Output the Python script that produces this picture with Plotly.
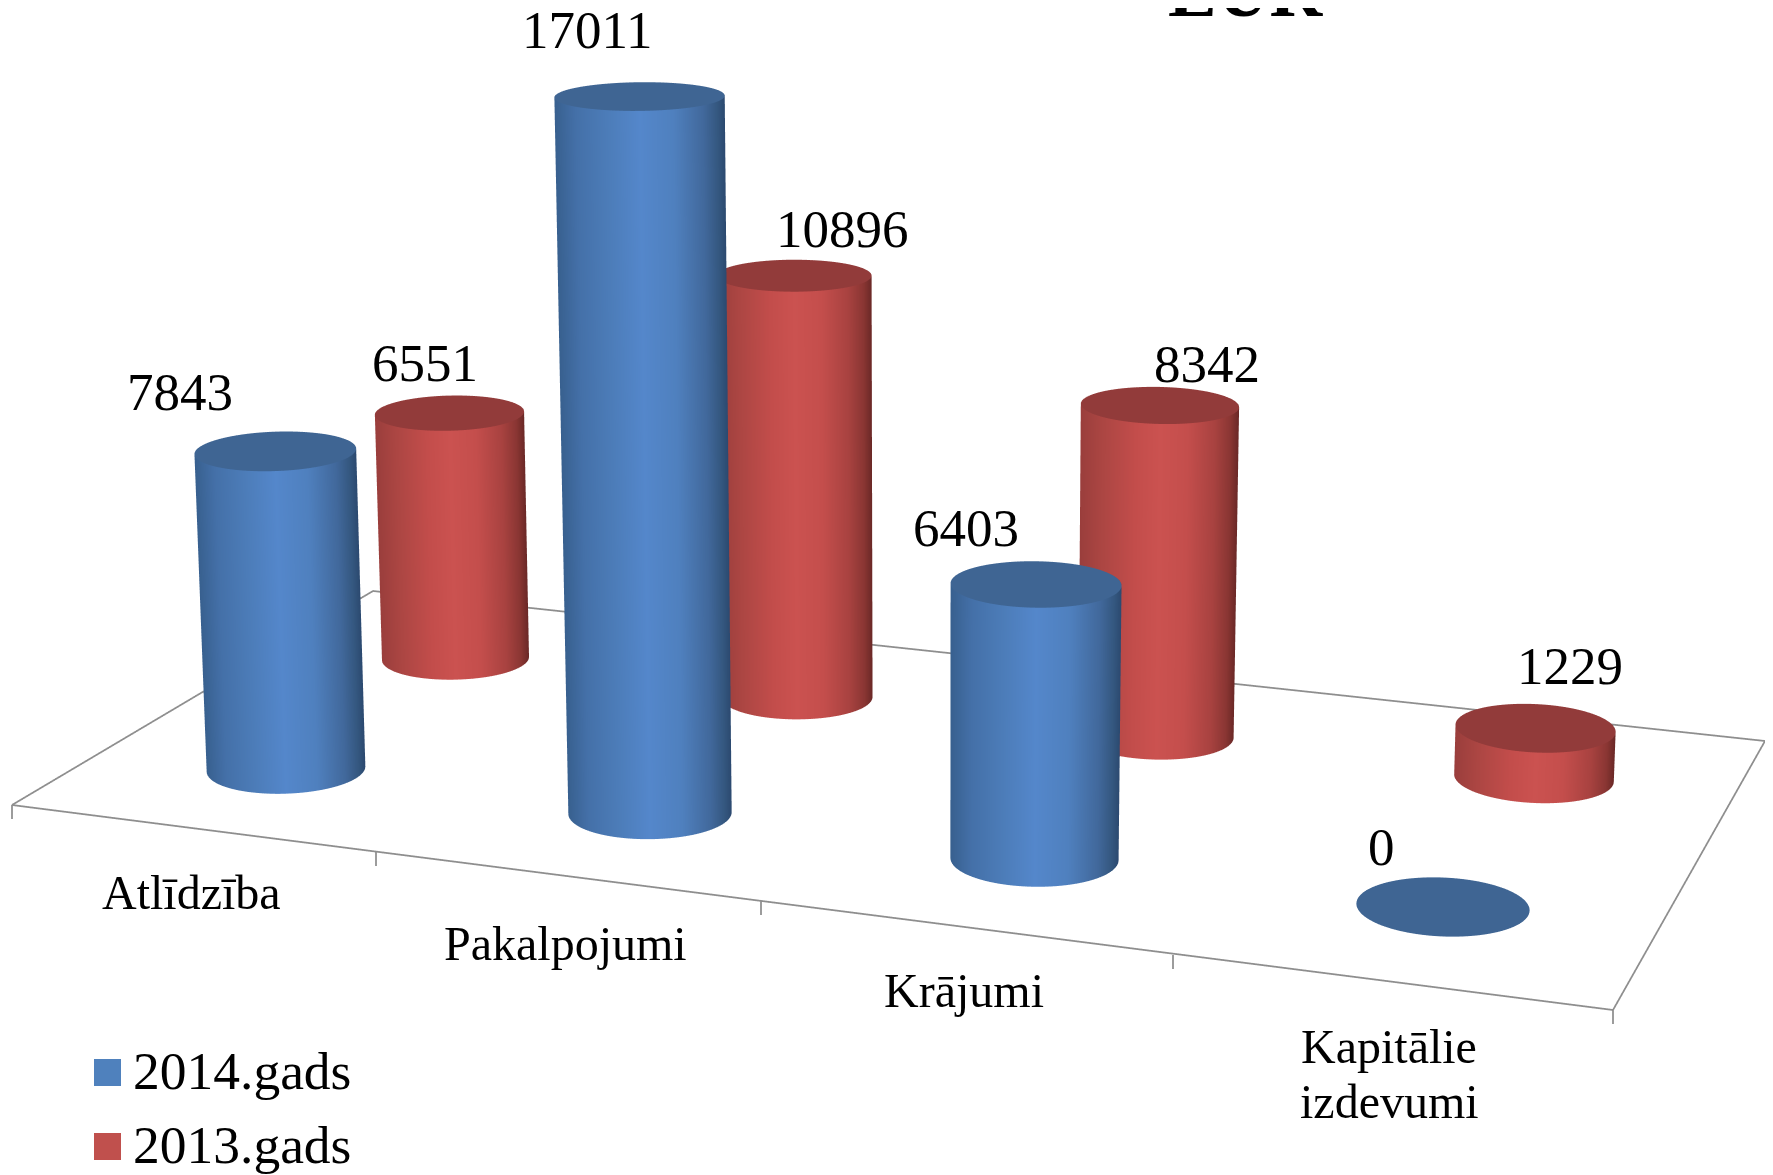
import math
import numpy as np
import plotly.graph_objects as go

# ---------- data ----------
categories = ["Atlīdzība", "Pakalpojumi", "Krājumi", "Kapitālie<br>izdevumi"]
series_names = ["2014.gads", "2013.gads"]
values_2014 = [7843, 17011, 6403, 0]
values_2013 = [6551, 10896, 8342, 1229]
chart_title = "EUR"

# ---------- floor layout (page-scale floor units) ----------
base_x_2014 = [286, 650, 1034.5, 1443]
base_y_2014 = [769, 813, 859, 907]
base_x_2013 = [455.5, 797, 1156, 1534]
base_y_2013 = [658.5, 697, 736, 778]
floor_corners = [(12, 805), (373, 591), (1765, 741), (1613, 1010)]
tick_x = [12, 376, 761, 1173, 1613]
tick_y = [805, 852, 901, 955, 1010]

W, H = 1773, 1175
PAGE = 8  # default page margin of the exported html
PITCH = math.radians(16)
SIN, COS = math.sin(PITCH), math.cos(PITCH)
Y0 = 1100.0
XR, YR, ZR = (0, W), (0, 2200), (-50, 1000)
ZOOM, DIST = 2000.0 / H, 3.0

def floor_y(sy):
    return (Y0 - sy) / SIN

def persp(sy):
    return (sy + 735) / 1000.0

def ratio(sy):
    return 0.148 + 0.000212 * sy

def ring(bx, by, h, frac):
    P = persp(by)
    R0 = 52.75 * P
    lean = 0.85 * (bx - 927) / (16960 - by) * h
    R = R0 * (1 + h * 6e-5 * frac)
    cx = bx + lean * frac
    sy = by - h * frac
    Ry = R * ratio(sy) / SIN
    shear = (cx - 815) * 6.2e-5 / SIN
    return cx, floor_y(by), h * frac / COS, R, Ry, shear

def side(bx, by, h):
    phi = np.linspace(0, 2 * np.pi, 181)
    xs, ys, zs = [], [], []
    for f in (0, 0.5, 1):
        cx, cy, cz, R, Ry, sh = ring(bx, by, h, f)
        xs.append(cx + R * np.cos(phi))
        ys.append(cy + Ry * np.sin(phi) - R * np.cos(phi) * sh)
        zs.append(np.full_like(phi, cz))
    shade = np.tile((1 + np.cos(phi)) / 2, (3, 1))
    return np.array(xs), np.array(ys), np.array(zs), shade

def cap(bx, by, h):
    phi = np.linspace(0, 2 * np.pi, 121)
    cx, cy, cz, R, Ry, sh = ring(bx, by, h, 1)
    rr = np.array([0.0, 1.0])[:, None]
    x = cx + rr * R * np.cos(phi)
    y = cy + rr * (Ry * np.sin(phi) - R * np.cos(phi) * sh)
    z = np.full_like(x, cz)
    return x, y, z

def height(v, by):
    h0 = v * 0.0267 * persp(by)
    return h0 * (1 + h0 * 2.7e-5)

flat = dict(ambient=1, diffuse=0, specular=0, roughness=1, fresnel=0)
side_scales = [
    [[0, "#38608F"], [0.12, "#4470A8"], [0.3, "#4C7CB8"], [0.5, "#5487CB"], [0.7, "#4F80BE"], [0.88, "#41689B"], [0.96, "#34577F"], [1, "#2C4A70"]],
    [[0, "#9A3E3C"], [0.14, "#AC4643"], [0.35, "#C34D4B"], [0.5, "#CB5250"], [0.68, "#C44E4C"], [0.85, "#A84240"], [0.95, "#8A3633"], [1, "#6B2927"]],
]
cap_colors = ["#3F6593", "#923B3A"]
legend_colors = ["#4F81BD", "#C0504D"]

fig = go.Figure()
series = [(values_2014, base_x_2014, base_y_2014), (values_2013, base_x_2013, base_y_2013)]
for s, (vals, bxs, bys) in enumerate(series):
    for v, bx, by in zip(vals, bxs, bys):
        h = height(v, by)
        if h > 0:
            x, y, z, c = side(bx, by, h)
            fig.add_trace(go.Surface(x=x, y=y, z=z, surfacecolor=c, cmin=0, cmax=1,
                                     colorscale=side_scales[s], showscale=False,
                                     lighting=flat, hoverinfo="skip", showlegend=False, name=series_names[s]))
        x, y, z = cap(bx, by, h)
        fig.add_trace(go.Surface(x=x, y=y, z=z, surfacecolor=np.zeros_like(x), cmin=0, cmax=1,
                                 colorscale=[[0, cap_colors[s]], [1, cap_colors[s]]], showscale=False,
                                 lighting=flat, hoverinfo="skip", showlegend=False, name=series_names[s]))

# floor outline and ticks
lx, ly, lz = [], [], []
for sx, sy in floor_corners + floor_corners[:1]:
    lx.append(sx); ly.append(floor_y(sy)); lz.append(0)
for sx, sy in zip(tick_x, tick_y):
    lx += [None, sx, sx]; ly += [None, floor_y(sy), floor_y(sy)]; lz += [None, 0, -14 / COS]
fig.add_trace(go.Scatter3d(x=lx, y=ly, z=lz, mode="lines", line=dict(color="#8E8E8E", width=3.5),
                           hoverinfo="skip", showlegend=False, connectgaps=False))

def note(text, px, py, size=53, anchor="center"):
    return dict(text=text, xref="paper", yref="paper", x=(px - PAGE) / W, y=1 - (py - PAGE) / H, showarrow=False,
                xanchor=anchor, yanchor="middle", font=dict(family="Liberation Serif", size=size, color="#000"))

value_pos_2014 = [(180, 392.5), (587, 30.5), (966, 528), (1381, 847)]
value_pos_2013 = [(425, 363), (842, 229), (1207, 364), (1570, 666)]
cat_pos = [[(191, 892), (0, 0)], [(565, 943)], [(964, 990.5)], [(1389, 1046.5), (1389, 1101.5)]]
ann = []
for v, p in zip(values_2014 + values_2013, value_pos_2014 + value_pos_2013):
    ann.append(note(str(v), *p))
for c, ps in zip(categories, cat_pos):
    for line, p in zip(c.split("<br>"), ps):
        ann.append(note(line, *p, size=48))
ann.append(note("<b>" + chart_title + "</b>", 1245, -9, size=73))

# legend: swatches and names
swatch_y = [(1059, 1086), (1133, 1160)]
legend_text_y = [1071, 1145]
shapes = []
for name, col, (y0, y1), ty in zip(series_names, legend_colors, swatch_y, legend_text_y):
    shapes.append(dict(type="rect", xref="paper", yref="paper", layer="above", line=dict(width=0), fillcolor=col,
                       x0=(94 - PAGE) / W, x1=(121 - PAGE) / W, y0=1 - (y0 - PAGE) / H, y1=1 - (y1 - PAGE) / H))
    ann.append(note(name, 131, ty, size=53.5, anchor="left"))

axis = dict(visible=False, showgrid=False, zeroline=False, showspikes=False, showbackground=False, autorange=False)
cy, cz = sum(YR) / 2, sum(ZR) / 2
shift = (H / 2 + PAGE - (Y0 - cy * SIN - cz * COS)) / 1000.0 * ZOOM
center = dict(x=PAGE / 1000.0 * ZOOM, y=-shift * SIN, z=-shift * COS)
eye = dict(x=center["x"], y=center["y"] - DIST * COS, z=center["z"] + DIST * SIN)

fig.update_layout(
    width=W, height=H, margin=dict(l=0, r=0, t=0, b=0), paper_bgcolor="white", hovermode=False,
    annotations=ann, shapes=shapes, showlegend=False,
    scene=dict(domain=dict(x=[0, 1], y=[0, 1]), aspectmode="manual",
               aspectratio=dict(x=(XR[1] - XR[0]) / 1000 * ZOOM, y=(YR[1] - YR[0]) / 1000 * ZOOM, z=(ZR[1] - ZR[0]) / 1000 * ZOOM),
               xaxis=dict(axis, range=list(XR)), yaxis=dict(axis, range=list(YR)), zaxis=dict(axis, range=list(ZR)),
               camera=dict(projection=dict(type="orthographic"), eye=eye, center=center, up=dict(x=0, y=0, z=1))),
)
fig.write_html("out.html")
